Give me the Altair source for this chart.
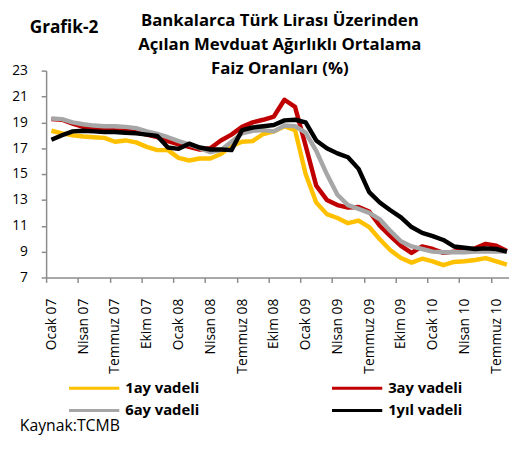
import altair as alt
import pandas as pd

tick_labels = ["Ocak 07", "Nisan 07", "Temmuz 07", "Ekim 07", "Ocak 08", "Nisan 08",
               "Temmuz 08", "Ekim 08", "Ocak 09", "Nisan 09", "Temmuz 09", "Ekim 09",
               "Ocak 10", "Nisan 10", "Temmuz 10"]
series_names = ["1ay vadeli", "3ay vadeli", "6ay vadeli", "1yıl vadeli"]
series_colors = ["#FFC000", "#C00000", "#A6A6A6", "#000000"]
title_lines = ["Bankalarca Türk Lirası Üzerinden", "Açılan Mevduat Ağırlıklı Ortalama",
               "Faiz Oranları (%)"]

ay1 = [18.35, 18.15, 18.0, 17.9, 17.85, 17.8, 17.5, 17.6, 17.45, 17.1, 16.85, 16.85,
       16.25, 16.05, 16.2, 16.2, 16.55, 17.15, 17.5, 17.55, 18.1, 18.3, 18.7, 18.4,
       15.0, 12.8, 11.9, 11.6, 11.2, 11.4, 10.9, 9.95, 9.1, 8.5, 8.15, 8.45,
       8.25, 7.95, 8.2, 8.25, 8.35, 8.5, 8.25, 8.0]
ay3 = [19.25, 19.2, 18.9, 18.65, 18.55, 18.5, 18.4, 18.35, 18.25, 18.05, 17.85, 17.55,
       17.3, 17.1, 16.9, 17.0, 17.6, 18.05, 18.65, 19.0, 19.2, 19.45, 20.75, 20.2,
       17.2, 14.1, 13.0, 12.6, 12.4, 12.45, 12.1, 11.0, 10.2, 9.45, 8.9, 9.4,
       9.2, 8.9, 9.0, 9.1, 9.25, 9.6, 9.45, 9.05]
ay6 = [19.3, 19.25, 19.0, 18.85, 18.75, 18.7, 18.7, 18.65, 18.55, 18.3, 18.1, 17.85,
       17.55, 17.3, 17.0, 16.7, 16.85, 17.5, 18.15, 18.35, 18.4, 18.3, 18.75, 18.7,
       18.2, 16.8, 15.0, 13.4, 12.6, 12.3, 12.0, 11.5, 10.6, 9.8, 9.4, 9.2,
       9.0, 8.95, 8.95, 8.95, 9.0, 9.0, 9.0, 9.0]
yil1 = [17.65, 18.0, 18.3, 18.35, 18.3, 18.25, 18.25, 18.2, 18.15, 18.05, 17.95, 17.05,
        16.95, 17.35, 17.05, 16.9, 16.9, 16.85, 18.4, 18.6, 18.7, 18.8, 19.15, 19.2,
        19.0, 17.6, 17.0, 16.6, 16.3, 15.4, 13.6, 12.8, 12.2, 11.65, 10.9, 10.45,
        10.2, 9.9, 9.4, 9.3, 9.2, 9.25, 9.2, 9.0]

rows = []
for name, vals in zip(series_names, [ay1, ay3, ay6, yil1]):
    for i, v in enumerate(vals):
        rows.append({"ay": i, "seri": name, "faiz": v})
df = pd.DataFrame(rows)

FONT = "Open Sans"
W, H = 470, 210
OX, OY = 46.7, 68.3  # page position of the plot origin
x_max = 43.2
step = W / (x_max + 0.5)

label_js = "[" + ",".join("'" + t + "'" for t in tick_labels) + "]"

x_enc = alt.X(
    "ay:Q",
    scale=alt.Scale(domain=[-0.5, x_max], nice=False, zero=False),
    axis=alt.Axis(
        values=list(range(0, 3 * len(tick_labels), 3)),
        labelExpr=label_js + "[round(datum.value/3)]",
        tickOffset=-step / 2,
        labelOffset=step / 2,
        labelAngle=270,
        labelPadding=16,
        tickSize=5,
        labelFontSize=14,
        grid=False,
    ),
    title=None,
)
y_enc = alt.Y(
    "faiz:Q",
    scale=alt.Scale(domain=[7, 23], nice=False, zero=False),
    axis=alt.Axis(values=list(range(7, 24, 2)), tickSize=5, labelPadding=14,
                  labelFontSize=14, grid=False),
    title=None,
)
color_enc = alt.Color(
    "seri:N",
    scale=alt.Scale(domain=series_names, range=series_colors),
    legend=None,
)

base = alt.Chart(df)
lines = [
    base.transform_filter(alt.datum.seri == name)
    .mark_line(strokeWidth=4.5, strokeJoin="round")
    .encode(x=x_enc, y=y_enc, color=color_enc)
    for name in series_names
]


def label(text, xpix, ypix, size, weight="normal", align="left", baseline="alphabetic"):
    return alt.Chart(pd.DataFrame({"t": [text]})).mark_text(
        align=align, baseline=baseline, fontSize=size, fontWeight=weight,
        font=FONT, color="#000000"
    ).encode(text="t:N", x=alt.value(xpix - OX), y=alt.value(ypix - OY))


def swatch(name, color, x1, x2, ypix):
    return alt.Chart(pd.DataFrame({"t": [name]})).mark_rule(
        strokeWidth=3, color=color
    ).encode(x=alt.value(x1 - OX), x2=alt.value(x2 - OX), y=alt.value(ypix - OY))


# legend: two columns, row-major order
leg_cols = [70, 337]
leg_rows = [390.7, 413.3]
legend_layers = []
for k, (name, color) in enumerate(zip(series_names, series_colors)):
    cx = leg_cols[k % 2]
    ry = leg_rows[k // 2]
    legend_layers.append(swatch(name, color, cx, cx + 51, ry))
    legend_layers.append(label(name, cx + 57, ry, 15, "bold", "left", "middle"))

texts = [label("Grafik-2", 30, 30, 17.5, "bold")]
for txt, yb in zip(title_lines, [23, 47.5, 72]):
    texts.append(label(txt, 284, yb, 17, "bold", "center"))
texts.append(label("Kaynak:TCMB", 20, 434, 16))

chart = alt.layer(*lines, *legend_layers, *texts).properties(
    width=W, height=H,
    padding={"left": OX - 8, "top": OY - 8, "right": 0, "bottom": 160},
    autosize=alt.AutoSizeParams(type="none"),
).configure_view(stroke=None).configure_axis(
    labelFont=FONT, labelColor="#000000", domainColor="#8c8c8c", tickColor="#8c8c8c",
    domainWidth=1.5, tickWidth=1.5,
)

chart.save("out.html", embed_options={"renderer": "svg", "actions": False})
